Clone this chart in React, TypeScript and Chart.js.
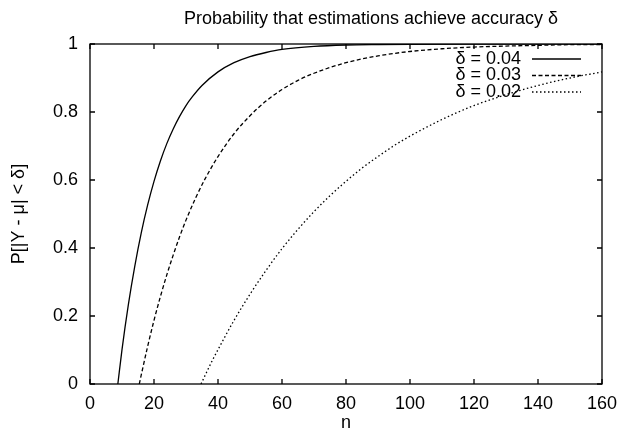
import React, { useEffect, useRef } from "react";
import { Chart, registerables } from "chart.js";

Chart.register(...registerables);

const titleText = "Probability that estimations achieve accuracy δ";
const xAxisTitle = "n";
const yAxisTitle = "P[|Y - μ| < δ]";
const seriesLabels = ["δ = 0.04", "δ = 0.03", "δ = 0.02"];

const n004 = [8.7, 10, 12, 14, 16, 18, 20, 22, 24, 26, 28, 30, 32, 35, 40, 45, 50, 55, 60, 70, 80, 90, 100, 120, 140, 160];
const p004 = [0, 0.101, 0.234, 0.347, 0.444, 0.526, 0.596, 0.656, 0.707, 0.75, 0.787, 0.819, 0.845, 0.878, 0.918, 0.945, 0.963, 0.975, 0.984, 0.993, 0.997, 0.9985, 0.9993, 0.9999, 1, 1];

const n003 = [15.4, 16, 18, 20, 22, 24, 26, 28, 30, 33, 36, 40, 45, 50, 55, 60, 65, 70, 80, 90, 100, 110, 120, 130, 140, 150, 160];
const p003 = [0, 0.026, 0.11, 0.187, 0.257, 0.321, 0.379, 0.433, 0.482, 0.547, 0.604, 0.669, 0.736, 0.789, 0.832, 0.866, 0.893, 0.914, 0.945, 0.965, 0.978, 0.986, 0.991, 0.994, 0.996, 0.998, 0.9985];

const n002 = [34.7, 36, 38, 40, 45, 50, 55, 60, 65, 70, 75, 80, 85, 90, 95, 100, 110, 120, 130, 140, 150, 160];
const p002 = [0, 0.026, 0.065, 0.101, 0.187, 0.264, 0.334, 0.398, 0.455, 0.507, 0.554, 0.596, 0.635, 0.669, 0.701, 0.729, 0.778, 0.819, 0.851, 0.878, 0.9, 0.918];

const xTicks = [0, 20, 40, 60, 80, 100, 120, 140, 160];
const yTicks = [0, 0.2, 0.4, 0.6, 0.8, 1];
const yTickLabels = ["0", "0.2", "0.4", "0.6", "0.8", "1"];

const FONT = "'Liberation Sans', Arial, Helvetica, sans-serif";
const FS = 18;
const dashes = [[], [4, 2.5], [1.5, 2.5]];

const toPoints = (xs: number[], ys: number[]) => xs.map((x, i) => ({ x, y: ys[i] }));

const framePlugin = {
  id: "gnuplotFrame",
  afterDatasetsDraw(chart: any) {
    const { ctx, chartArea } = chart;
    const { left, right, top, bottom } = chartArea;
    const xs = chart.scales.x;
    const ys = chart.scales.y;
    ctx.save();
    ctx.strokeStyle = "#000";
    ctx.lineWidth = 1.3;
    ctx.setLineDash([]);
    ctx.strokeRect(left, top, right - left, bottom - top);
    const tl = 5;
    ctx.beginPath();
    xTicks.forEach((v) => {
      const px = xs.getPixelForValue(v);
      ctx.moveTo(px, bottom);
      ctx.lineTo(px, bottom - tl);
      ctx.moveTo(px, top);
      ctx.lineTo(px, top + tl);
    });
    yTicks.forEach((v) => {
      const py = ys.getPixelForValue(v);
      ctx.moveTo(left, py);
      ctx.lineTo(left + tl, py);
      ctx.moveTo(right, py);
      ctx.lineTo(right - tl, py);
    });
    ctx.stroke();
    ctx.restore();
  },
  afterDraw(chart: any) {
    const { ctx } = chart;
    ctx.save();
    ctx.fillStyle = "#000";
    ctx.font = `${FS}px ${FONT}`;
    ctx.textAlign = "center";
    ctx.textBaseline = "middle";
    ctx.fillText(titleText, 371, 19);
    const textRight = 521;
    const lineStart = 532;
    const lineEnd = 581;
    const rowY = [59, 75.5, 92];
    chart.data.datasets.forEach((ds: any, i: number) => {
      const y = rowY[i];
      ctx.textAlign = "right";
      ctx.fillText(ds.label, textRight, y);
      ctx.beginPath();
      ctx.setLineDash(dashes[i]);
      ctx.lineWidth = 1.3;
      ctx.strokeStyle = "#000";
      ctx.moveTo(lineStart, y);
      ctx.lineTo(lineEnd, y);
      ctx.stroke();
    });
    ctx.restore();
  },
};

export default function App() {
  const ref = useRef<HTMLCanvasElement | null>(null);
  useEffect(() => {
    document.body.style.margin = "0";
    const canvas = ref.current!;
    const datasets = [
      { label: seriesLabels[0], data: toPoints(n004, p004) },
      { label: seriesLabels[1], data: toPoints(n003, p003) },
      { label: seriesLabels[2], data: toPoints(n002, p002) },
    ].map((d, i) => ({
      ...d,
      borderColor: "#000",
      backgroundColor: "#000",
      borderWidth: 1.3,
      borderDash: dashes[i],
      pointRadius: 0,
      fill: false,
      cubicInterpolationMode: "monotone" as const,
    }));
    const chart = new Chart(canvas, {
      type: "line",
      data: { datasets },
      options: {
        responsive: false,
        animation: false,
        layout: { padding: { left: 0, right: 19, top: 44, bottom: 0 } },
        plugins: { legend: { display: false }, title: { display: false }, tooltip: { enabled: false } },
        scales: {
          x: {
            type: "linear",
            min: 0,
            max: 160,
            afterFit: (s: any) => { s.height = 51; s.paddingLeft = 0; s.paddingRight = 0; },
            afterBuildTicks: (s: any) => { s.ticks = xTicks.map((v) => ({ value: v })); },
            ticks: { color: "#000", font: { family: FONT, size: FS }, padding: 9, maxRotation: 0, autoSkip: false },
            grid: { display: false, drawTicks: false },
            border: { display: false },
            title: { display: true, text: xAxisTitle, color: "#000", font: { family: FONT, size: FS }, padding: { top: 0, bottom: 1 } },
          },
          y: {
            type: "linear",
            min: 0,
            max: 1,
            afterFit: (s: any) => { s.width = 90; s.paddingTop = 0; s.paddingBottom = 0; },
            afterBuildTicks: (s: any) => { s.ticks = yTicks.map((v) => ({ value: v })); },
            ticks: {
              color: "#000",
              font: { family: FONT, size: FS },
              padding: 12,
              autoSkip: false,
              callback: (v: any) => yTickLabels[yTicks.indexOf(Number(v))] ?? String(v),
            },
            grid: { display: false, drawTicks: false },
            border: { display: false },
            title: { display: true, text: yAxisTitle, color: "#000", font: { family: FONT, size: FS }, padding: { top: 8, bottom: 0 } },
          },
        },
      },
      plugins: [framePlugin],
    });
    return () => chart.destroy();
  }, []);
  return (
    <div style={{ position: "absolute", left: 0, top: 0, width: 621, height: 435, background: "#fff" }}>
      <canvas ref={ref} width={621} height={435} style={{ display: "block" }} />
    </div>
  );
}
